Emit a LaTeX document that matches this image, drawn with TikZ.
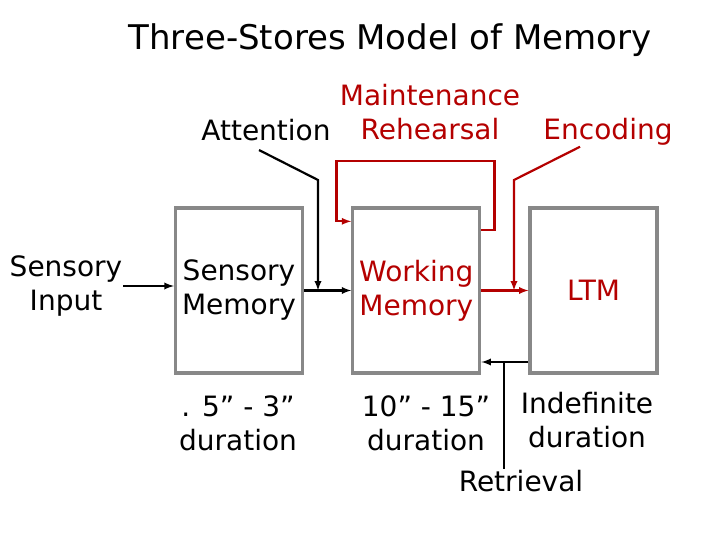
\documentclass[tikz,border=0pt]{standalone}
\usepackage{fontspec}
\setmainfont{DejaVu Sans}
\usetikzlibrary{positioning}
\definecolor{memred}{RGB}{180,0,0}
\definecolor{boxgray}{RGB}{136,136,136}

\begin{document}
\begin{tikzpicture}[x=1pt, y=-1pt,
  font=\fontsize{28}{34}\selectfont,
  node distance = 47pt,
  store/.style = {draw=boxgray,line width=3.3pt,minimum width=127pt,
        minimum height=165pt,align=center,inner sep=0pt},
  lbl/.style = {align=center,inner sep=1pt}]
 \useasboundingbox (0,0) rectangle (720,540);
 \node[font=\fontsize{34}{40}\selectfont] (title) at (390,40) {Three-Stores Model of Memory};
 \node[store] (sensory) at (239,290.5) {Sensory\\Memory};
 \node[store,text=memred,right=of sensory] (working) {Working\\Memory};
 \node[store,text=memred,right=of working] (ltm) {LTM};
 \node[lbl] (input)    at (66,286)  {Sensory\\Input};
 \node[lbl] (attn)     at (266,130) {Attention};
 \node[lbl,text=memred] (rehearse) at (430,112) {Maintenance\\Rehearsal};
 \node[lbl,text=memred] (enc)      at (608,132) {Encoding};
 \node[lbl] (sdur) at (238,423) {. 5” - 3”\\duration};
 \node[lbl] (wdur) at (426,423) {10” - 15”\\duration};
 \node[lbl] (ldur) at (587,420) {Indefinite\\duration};
 \node[lbl] (retr) at (521,481) {Retrieval};
 \coordinate (attnbend) at (318,180);
 \coordinate (encbend)  at (514,180);
 \coordinate (rjoin)    at (504,362);
 \begin{scope}[line width=2.2pt,-latex]
  \draw (input.east) -- (input.east -| sensory.west);
  \draw (sensory) -- (working);
  \draw ([xshift=-7pt,yshift=-8pt]attn.south) -- (attnbend) -- (attnbend |- sensory.east);
  \draw[memred] (working) -- (ltm);
  \draw[memred] ([xshift=-28pt]enc.south) -- (encbend) -- (encbend |- working.east);
  % rehearsal loop back into working memory
  \draw[memred] ([yshift=-24pt]working.north east) -- ++(13,0) -- ++(0,-69)
    -- ++(-158,0) -- ++(0,60) -- ([yshift=-15pt]working.north west);
  \draw (rjoin -| ltm.west) -- (rjoin -| working.east);
 \end{scope}
 \draw[line width=2.2pt] (retr.north -| rjoin) -- (rjoin);
\end{tikzpicture}
\end{document}
